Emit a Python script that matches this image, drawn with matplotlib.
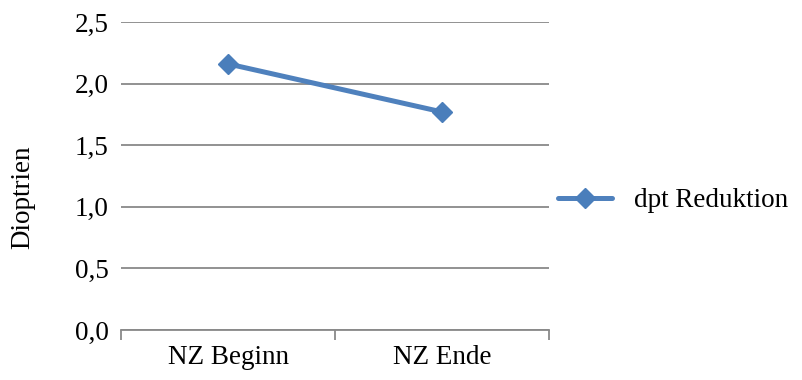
import matplotlib.pyplot as plt
from matplotlib.ticker import FuncFormatter

categories = ['NZ Beginn', 'NZ Ende']
dpt_reduktion = [2.16, 1.77]
y_ticks = [0.0, 0.5, 1.0, 1.5, 2.0, 2.5]

plt.rcParams['font.family'] = ['Liberation Serif', 'DejaVu Serif']
fs = 19.5

fig = plt.figure(figsize=(8.03, 3.80), dpi=100)
ax = fig.add_axes([0.1507, 0.1316, 0.5330, 0.8105])

grid_col = '#898989'
x = list(range(len(categories)))
ax.plot(x, dpt_reduktion, color='#4F81BD', linewidth=3.6, marker='D',
        markersize=10, markerfacecolor='#4A7EBB', markeredgecolor='#4A7EBB',
        label='dpt Reduktion', solid_capstyle='round')

ax.set_xlim(-0.5, len(categories) - 0.5)
ax.set_ylim(0, 2.5)
ax.set_yticks(y_ticks)
ax.yaxis.set_major_formatter(FuncFormatter(lambda v, p: f'{v:.1f}'.replace('.', ',')))
ax.yaxis.grid(True, color=grid_col, linewidth=1.3)
ax.set_axisbelow(True)

ax.set_xticks([i - 0.5 for i in range(len(categories) + 1)])
ax.set_xticklabels([])
ax.set_xticks(x, minor=True)
ax.set_xticklabels(categories, minor=True, fontsize=fs)
ax.tick_params(axis='x', which='major', length=7, width=1.3, color=grid_col)
ax.tick_params(axis='x', which='minor', length=0, pad=11)
ax.tick_params(axis='y', length=0, labelsize=fs, pad=9)

for s in ['left', 'right', 'top']:
    ax.spines[s].set_visible(False)
ax.spines['bottom'].set_color(grid_col)
ax.spines['bottom'].set_linewidth(1.3)

ax.set_ylabel('Dioptrien', fontsize=fs)
ax.yaxis.set_label_coords(-0.20, 0.43)

ax.legend(loc='center left', bbox_to_anchor=(1.021, 0.42), frameon=False,
          fontsize=fs, handlelength=2.0, handletextpad=0.8,
          borderaxespad=0, borderpad=0)

fig.savefig('out.png', dpi=100)
